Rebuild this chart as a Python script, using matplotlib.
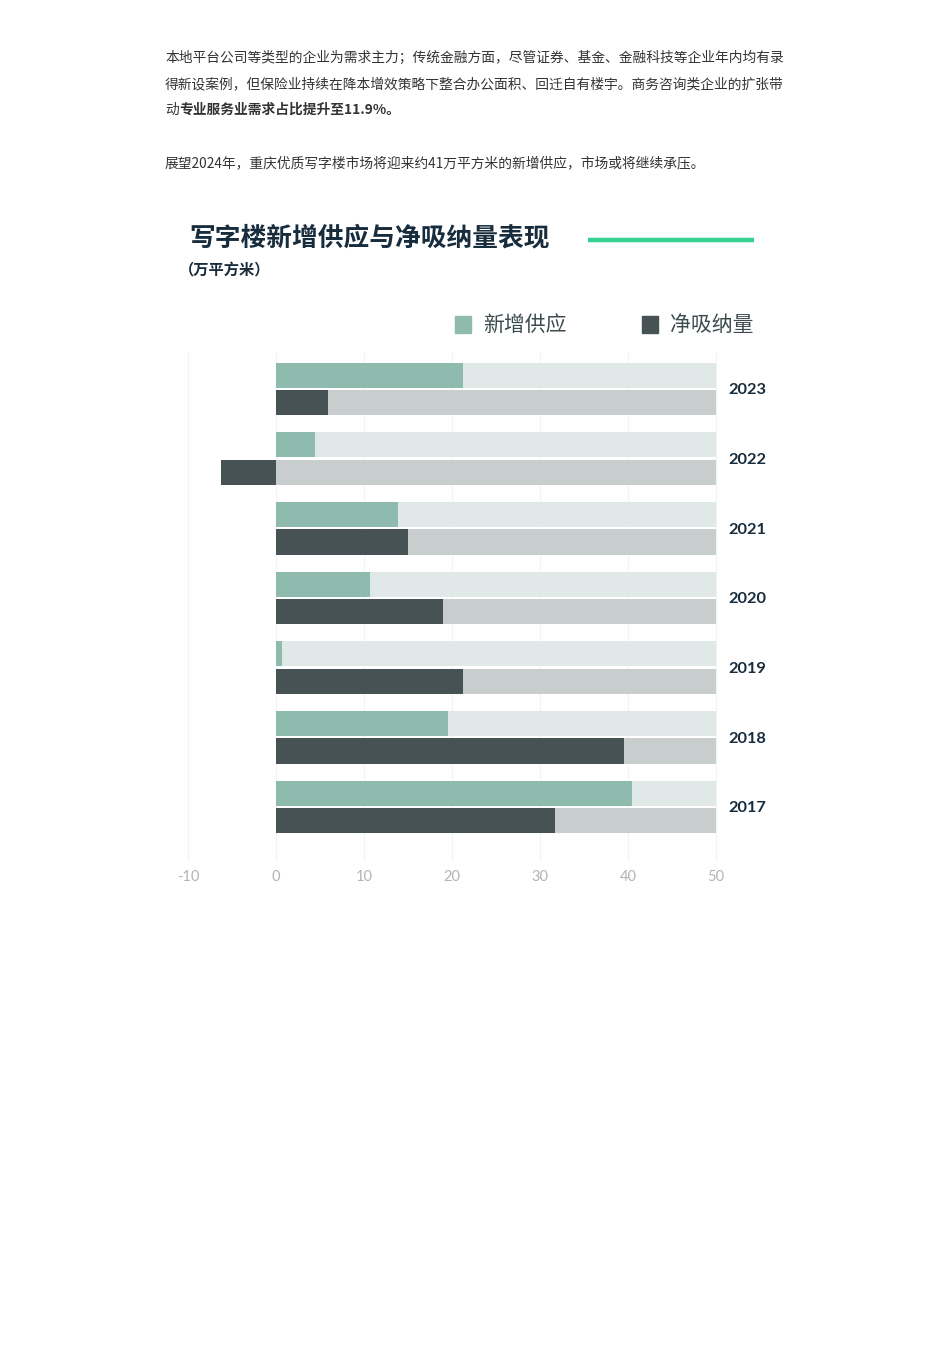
import numpy as np
import matplotlib
matplotlib.use("Agg")
import matplotlib.pyplot as plt

plt.rcParams['font.family'] = ['Noto Sans CJK SC', 'DejaVu Sans']

# data (万平方米)
years = ["2023", "2022", "2021", "2020", "2019", "2018", "2017"]
supply = [21.2, 4.4, 13.9, 10.7, 0.7, 19.6, 40.4]
absorption = [5.9, -6.2, 15.0, 19.0, 21.3, 39.5, 31.7]
series_names = ["新增供应", "净吸纳量"]
x_ticks = [-10, 0, 10, 20, 30, 40, 50]
bg_max = 50

para_lines = [
    "本地平台公司等类型的企业为需求主力；传统金融方面，尽管证券、基金、金融科技等企业年内均有录",
    "得新设案例，但保险业持续在降本增效策略下整合办公面积、回迁自有楼宇。商务咨询类企业的扩张带",
]
line3_plain = "动"
line3_bold = "专业服务业需求占比提升至11.9%。"
outlook = "展望2024年，重庆优质写字楼市场将迎来约41万平方米的新增供应，市场或将继续承压。"
title = "写字楼新增供应与净吸纳量表现"
subtitle = "（万平方米）"

# colours
c_supply = "#8fbaae"
c_supply_bg = "#e0e9e7"
c_abs = "#465253"
c_abs_bg = "#c8cdcd"
c_navy = "#172c3d"

W, H = 950, 1345
fig = plt.figure(figsize=(9.5, 13.45), dpi=100)
fig.patch.set_facecolor("white")

def fx(px):
    return px / W

def fy(py):
    return 1 - py / H

# article text
txt_kw = dict(fontsize=9.9, color="#333333", va="center", ha="left")
fig.text(fx(165), fy(58), para_lines[0], **txt_kw)
fig.text(fx(165), fy(84), para_lines[1], **txt_kw)
fig.text(fx(165), fy(110), line3_plain, **txt_kw)
fig.text(fx(179), fy(110), line3_bold, fontweight="bold", **txt_kw)
fig.text(fx(165), fy(163), outlook, **txt_kw)

# chart heading
fig.text(fx(189), fy(238), title, fontsize=18.5, fontweight="heavy",
         color=c_navy, va="center", ha="left")
fig.text(fx(179), fy(270), subtitle, fontsize=11, fontweight="bold",
         color=c_navy, va="center", ha="left")
fig.add_artist(plt.Line2D([fx(588), fx(754)], [fy(240), fy(240)],
                          color="#33d28f", linewidth=3.2, solid_capstyle="butt"))

# legend
fig.patches.append(plt.Rectangle((fx(455), fy(333)), fx(16), 17 / H,
                                 color=c_supply, transform=fig.transFigure))
fig.text(fx(483), fy(325), series_names[0], fontsize=15, color="#3d4b4f",
         va="center", ha="left")
fig.patches.append(plt.Rectangle((fx(642), fy(333)), fx(16), 17 / H,
                                 color=c_abs, transform=fig.transFigure))
fig.text(fx(670), fy(325), series_names[1], fontsize=15, color="#3d4b4f",
         va="center", ha="left")

# bar chart
ax_left, ax_right = 276 - 11 * 8.8, 276 + 51 * 8.8
ax = fig.add_axes([fx(ax_left), 1 - 862 / H, (ax_right - ax_left) / W, 510 / H])
ax.set_xlim(-11, 51)
ax.set_ylim(6.79, -0.53)

y = np.arange(len(years))
off, h = 0.197, 0.36

for xv in x_ticks:
    ax.axvline(xv, color="#f3f4f4", linewidth=0.9, zorder=0)

ax.barh(y - off, [bg_max] * len(years), height=h, color=c_supply_bg, zorder=1)
ax.barh(y + off, [bg_max] * len(years), height=h, color=c_abs_bg, zorder=1)
ax.barh(y - off, supply, height=h, color=c_supply, zorder=2)
ax.barh(y + off, absorption, height=h, color=c_abs, zorder=2)

for s in ax.spines.values():
    s.set_visible(False)

ax.set_xticks(x_ticks)
ax.set_xticklabels([str(t) for t in x_ticks], family="Lato", fontsize=10.5,
                   color="#b3b3b3")
ax.tick_params(axis="x", length=0, pad=6)

ax.yaxis.tick_right()
ax.set_yticks(y)
ax.set_yticklabels(years, family="Lato", fontweight="bold", fontsize=11.8,
                   color=c_navy)
ax.tick_params(axis="y", length=0, pad=2.5)

fig.savefig("out.png", dpi=100, facecolor="white")
